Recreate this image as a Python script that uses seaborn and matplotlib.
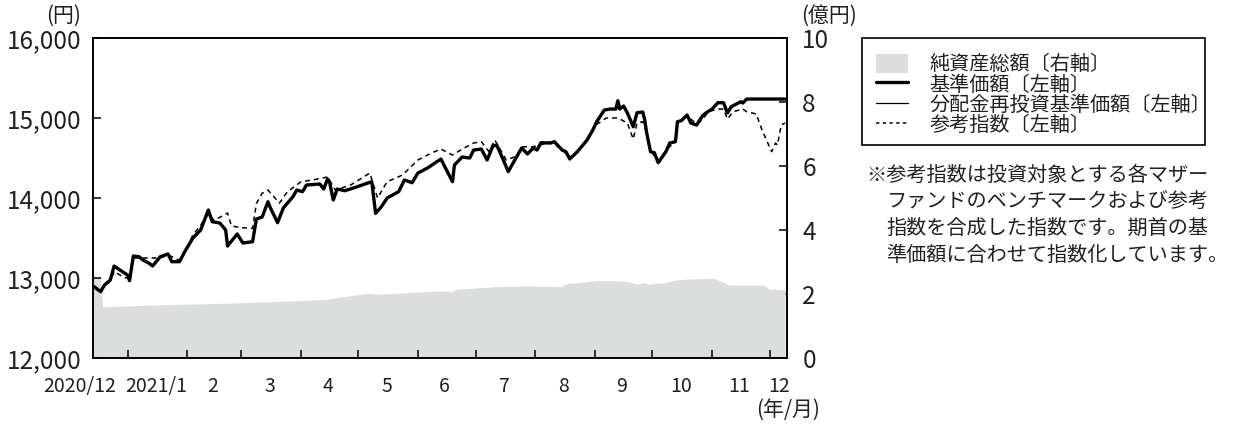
import numpy as np
import pandas as pd
import matplotlib
matplotlib.use("Agg")
import matplotlib.pyplot as plt
import matplotlib.dates as mdates
from matplotlib.patches import Patch, Rectangle
from matplotlib.lines import Line2D
import seaborn as sns

# ---------------- data ----------------
start_date = "2020-12-14"
end_offset = 361

# 基準価額 (円) : days since start, value
price_days = [0, 4, 6, 9, 11, 14, 18, 19, 21, 24, 26, 29, 31, 35, 39, 41, 45, 48, 52, 56,
              60, 62, 66, 69, 70, 75, 78, 83, 85, 88, 91, 92, 96, 99, 104, 106, 109, 111,
              118, 120, 122, 123, 125, 127, 131, 137, 145, 147, 150, 153, 159, 162, 166,
              169, 174, 181, 183, 187, 188, 192, 196, 198, 202, 205, 208, 210, 213, 216,
              220, 223, 226, 229, 231, 233, 238, 240, 244, 246, 248, 252, 257, 260, 262,
              266, 269, 272, 273, 274, 276, 278, 281, 283, 286, 287, 288, 290, 292, 294,
              298, 300, 303, 304, 306, 309, 311, 314, 317, 319, 322, 325, 328, 330, 332,
              337, 338, 340, 360]
price_vals = [12900, 12829, 12912, 12975, 13150, 13100, 13037, 12966, 13275, 13266, 13225,
              13187, 13150, 13266, 13300, 13204, 13204, 13341, 13500, 13600, 13850, 13704,
              13687, 13600, 13400, 13550, 13437, 13454, 13737, 13762, 13954, 13891, 13691,
              13875, 14016, 14100, 14079, 14162, 14175, 14112, 14237, 14204, 13975, 14112,
              14091, 14137, 14204, 13808, 13891, 14000, 14079, 14225, 14191, 14312, 14375,
              14487, 14391, 14204, 14412, 14512, 14500, 14600, 14612, 14475, 14650, 14662,
              14500, 14329, 14500, 14625, 14550, 14625, 14600, 14691, 14687, 14704, 14600,
              14579, 14487, 14579, 14725, 14850, 14954, 15100, 15112, 15112, 15216, 15112,
              15150, 15062, 14891, 15066, 15075, 14975, 14816, 14579, 14566, 14441, 14579,
              14687, 14704, 14954, 14966, 15037, 14937, 14912, 15025, 15066, 15112, 15191,
              15191, 15062, 15141, 15204, 15187, 15237, 15237]

# 分配金再投資基準価額 (円) : overlaps 基準価額 (no distribution in period)
reinv_vals = list(price_vals)

# 参考指数 (円)
index_days = [0, 4, 9, 11, 16, 19, 21, 35, 39, 45, 48, 52, 56, 60, 63, 70, 72, 77, 83, 85,
              88, 91, 97, 101, 108, 114, 122, 126, 134, 144, 148, 153, 161, 169, 176, 181,
              187, 193, 198, 202, 206, 209, 215, 220, 223, 229, 238, 244, 248, 252, 257,
              262, 267, 273, 278, 281, 283, 286, 288, 290, 294, 298, 303, 304, 309, 314,
              317, 320, 325, 328, 330, 333, 338, 340, 345, 348, 351, 353, 355, 356, 358, 360]
index_vals = [12900, 12850, 12960, 13080, 13010, 12990, 13250, 13250, 13290, 13220, 13330,
              13540, 13660, 13800, 13720, 13812, 13650, 13630, 13620, 13930, 14060, 14100,
              13937, 14075, 14200, 14225, 14262, 14100, 14162, 14312, 14000, 14204, 14287,
              14475, 14562, 14612, 14537, 14625, 14687, 14704, 14579, 14725, 14475, 14520,
              14640, 14640, 14700, 14610, 14500, 14590, 14710, 14920, 15000, 15000, 14937,
              14737, 14937, 14954, 14816, 14590, 14460, 14590, 14720, 14940, 15020, 14930,
              14975, 15079, 15112, 15112, 14987, 15079, 15112, 15079, 15050, 14850, 14687,
              14579, 14687, 14662, 14912, 14937]

# 純資産総額 (億円)
nav_days = [0, 4, 5, 33, 68, 94, 120, 143, 148, 181, 186, 189, 210, 226, 244, 245, 262,
            273, 279, 283, 286, 289, 297, 302, 307, 323, 326, 331, 349, 352, 360]
nav_vals = [2.54, 2.54, 1.60, 1.66, 1.71, 1.76, 1.83, 2.02, 1.99, 2.10, 2.07, 2.15, 2.23,
            2.25, 2.23, 2.31, 2.42, 2.41, 2.38, 2.31, 2.35, 2.31, 2.35, 2.42, 2.46, 2.49,
            2.42, 2.28, 2.28, 2.15, 2.13]

month_labels = ["2020/12", "2021/1", "2", "3", "4", "5", "6", "7", "8", "9", "10", "11", "12"]
month_label_dates = ["2020-12-07", "2021-01-16", "2021-02-14", "2021-03-16", "2021-04-15",
                     "2021-05-16", "2021-06-15", "2021-07-16", "2021-08-16", "2021-09-15",
                     "2021-10-16", "2021-11-15", "2021-12-06"]

legend_labels = ["純資産総額〔右軸〕", "基準価額〔左軸〕", "分配金再投資基準価額〔左軸〕", "参考指数〔左軸〕"]
note_lines = ["※参考指数は投資対象とする各マザー",
              "ファンドのベンチマークおよび参考",
              "指数を合成した指数です。期首の基",
              "準価額に合わせて指数化しています。"]

# ---------------- build frames ----------------
t0 = pd.Timestamp(start_date)
df_price = pd.DataFrame({"date": t0 + pd.to_timedelta(price_days, unit="D"),
                         "price": price_vals, "reinv": reinv_vals})
df_index = pd.DataFrame({"date": t0 + pd.to_timedelta(index_days, unit="D"), "index": index_vals})
df_nav = pd.DataFrame({"date": t0 + pd.to_timedelta(nav_days, unit="D"), "nav": nav_vals})

# ---------------- style ----------------
sns.set_theme(style="white")
jp = "Noto Sans CJK JP"
plt.rcParams["font.family"] = [jp, "DejaVu Sans"]
plt.rcParams["axes.unicode_minus"] = False

txt_color = "#231f20"
fill_color = "#dcdddd"
W, H = 1238, 425
fig = plt.figure(figsize=(W / 100, H / 100), dpi=100)
ax = fig.add_axes([93 / W, 1 - 358 / H, (787 - 93) / W, (358 - 38) / H])
ax2 = ax.twinx()

# NAV fill on the right axis
ax2.fill_between(df_nav["date"], 0, df_nav["nav"], color=fill_color, linewidth=0)
ax2.set_ylim(0, 10)
ax2.set_yticks(np.arange(0, 11, 2))

# lines on left axis
sns.lineplot(data=df_index, x="date", y="index", ax=ax, color="black", linewidth=1.1,
             linestyle=(0, (3.2, 2.6)), zorder=3)
sns.lineplot(data=df_price, x="date", y="price", ax=ax, color="black", linewidth=2.4, zorder=4)
sns.lineplot(data=df_price, x="date", y="reinv", ax=ax, color="black", linewidth=0.9, zorder=5)

ax.set_zorder(ax2.get_zorder() + 1)
ax.patch.set_visible(False)

ax.set_xlim(t0, t0 + pd.Timedelta(days=end_offset))
ax.set_ylim(12000, 16000)
ax.set_yticks(np.arange(12000, 16001, 1000))
ax.set_yticklabels([f"{v:,}" for v in range(12000, 16001, 1000)])
ax.set_xlabel("")
ax.set_ylabel("")
ax2.set_ylabel("")

ax.xaxis.set_major_locator(mdates.MonthLocator(bymonthday=1))
ax.tick_params(axis="x", which="major", direction="in", length=6, width=1.1, color="black",
               labelbottom=False, bottom=True)
ax.tick_params(axis="y", direction="in", length=5.5, width=1.1, color="black",
               labelsize=17.5, pad=8, left=True, labelcolor=txt_color)
ax2.tick_params(axis="y", direction="in", length=5.5, width=1.1, color="black",
                labelsize=17.5, pad=11, right=True, labelcolor=txt_color)

for a in (ax, ax2):
    for s in a.spines.values():
        s.set_color("black")
        s.set_linewidth(1.2)
        s.set_visible(True)

# month labels
xt = ax.get_xaxis_transform()
for lab, d in zip(month_labels, month_label_dates):
    ax.text(pd.Timestamp(d), -0.09, lab, transform=xt, ha="center", va="center",
            fontsize=14, color=txt_color, clip_on=False)

# unit labels
fig.text(81 / W, 1 - 16 / H, "(円)", ha="right", va="center", fontsize=15, color=txt_color)
fig.text(801 / W, 1 - 16 / H, "(億円)", ha="left", va="center", fontsize=15, color=txt_color)
fig.text(820 / W, 1 - 410 / H, "(年/月)", ha="right", va="center", fontsize=15, color=txt_color)

# legend (frame drawn separately to match the reference box)
handles = [Patch(facecolor=fill_color, edgecolor="none"),
           Line2D([], [], color="black", linewidth=2.4),
           Line2D([], [], color="black", linewidth=0.9),
           Line2D([], [], color="black", linewidth=1.1, linestyle=(0, (2.2, 2.2)))]
leg = fig.legend(handles, legend_labels, loc="upper left",
                 bbox_to_anchor=(864 / W, 1 - 42 / H), bbox_transform=fig.transFigure,
                 fontsize=14.5, frameon=False,
                 borderaxespad=0, borderpad=0.6, labelspacing=-0.05,
                 handlelength=1.6, handleheight=1.05, handletextpad=1.05)
for t in leg.get_texts():
    t.set_color(txt_color)
fig.patches.append(Rectangle((862 / W, 1 - 145 / H), (1205 - 862) / W, (145 - 38) / H,
                             transform=fig.transFigure, fill=False, edgecolor="black",
                             linewidth=1.2, figure=fig))

# footnote
note_x = [866, 886, 886, 886]
for i, line in enumerate(note_lines):
    fig.text(note_x[i] / W, 1 - (175 + 26.7 * i) / H, line, ha="left", va="center",
             fontsize=14.5, color=txt_color)

fig.savefig("out.png", dpi=100)
